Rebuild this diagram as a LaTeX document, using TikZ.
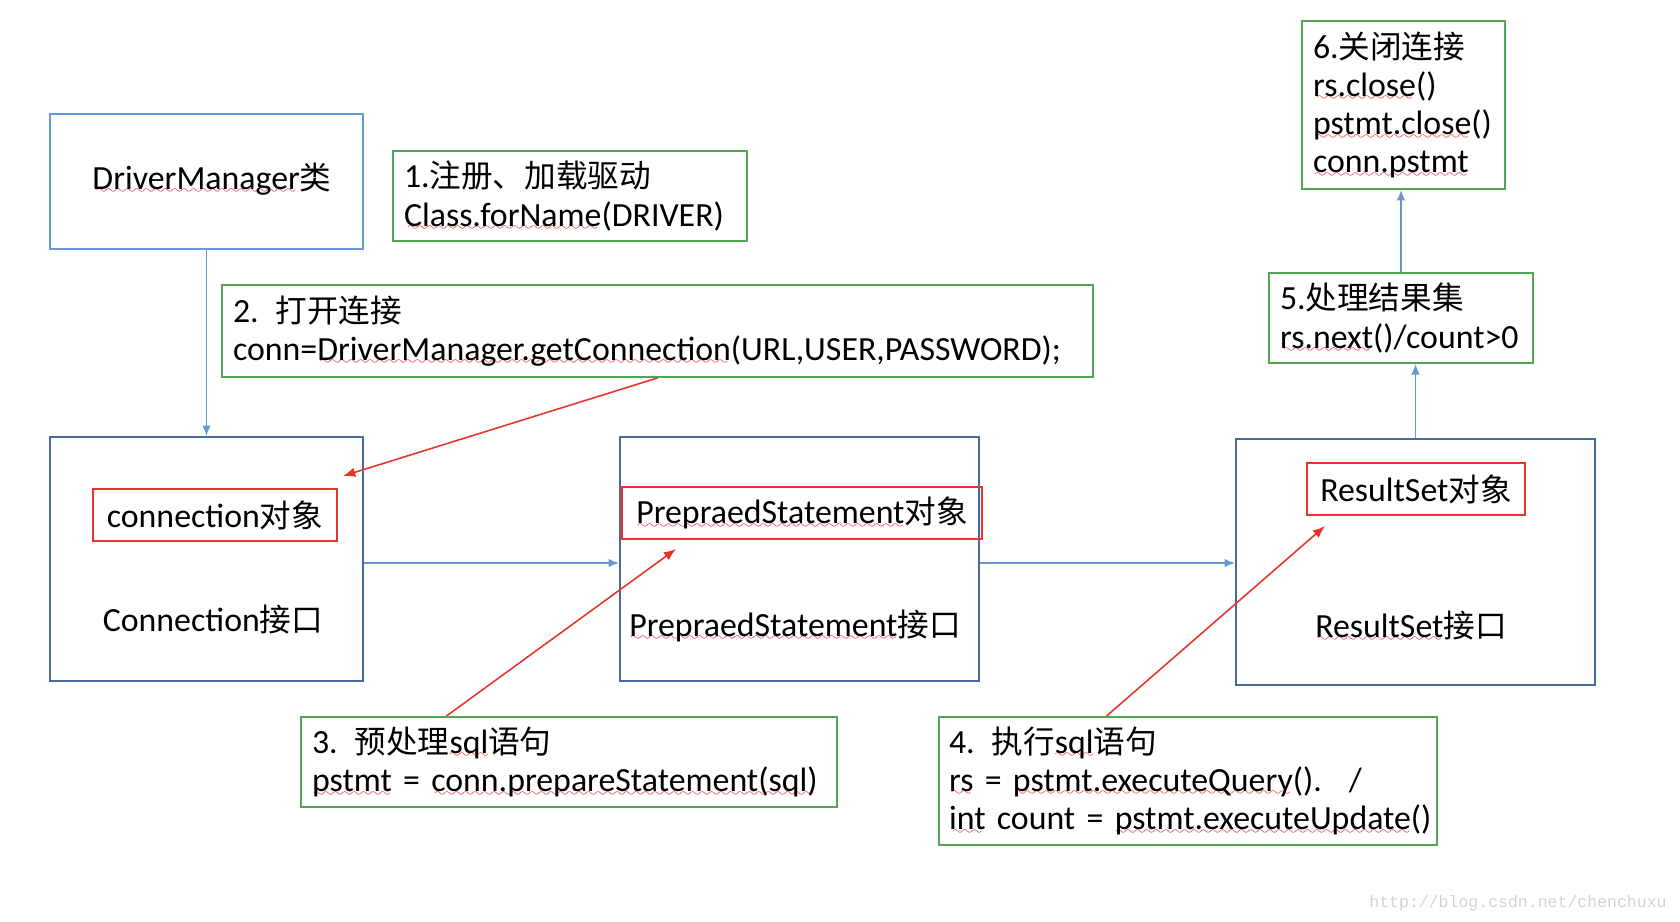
\documentclass[tikz,border=0pt]{standalone}
\usepackage{fontspec}
\usepackage{xcolor}
\setmainfont{Carlito}[Scale=1.07]
\newfontfamily\cjk{Noto Sans CJK SC}
\newfontfamily\wmfont{Liberation Mono}
\usetikzlibrary{arrows.meta,calc}

\definecolor{stepgreen}{RGB}{82,168,82}
\definecolor{ifblue}{RGB}{74,106,158}
\definecolor{dmblue}{RGB}{104,152,212}
\definecolor{arrblue}{RGB}{104,152,212}
\definecolor{objred}{RGB}{232,52,42}
\definecolor{sqred}{RGB}{236,40,40}

% red wavy underline, as drawn by the spell checker
\font\wavefont=lasy7
\newcommand\sq[1]{\leavevmode\setbox0\hbox{#1}%
  \rlap{\lower2.5pt\hbox to \wd0{\color{sqred}\cleaders\hbox{\wavefont\char58}\hfill}}\box0\relax}

\tikzset{
  txt/.style={font=\fontsize{18}{21.7}\selectfont, inner sep=0pt},
  ifbox/.style={draw=ifblue, line width=1.1pt, inner sep=0pt},
  dmbox/.style={draw=dmblue, line width=1.1pt, inner sep=0pt},
  objbox/.style={draw=objred, line width=1.1pt, txt},
  stepbox/.style={draw=stepgreen, line width=1.1pt, txt, align=left,
    inner xsep=0.22cm, inner ysep=0pt},
  bluearr/.style={draw=arrblue, line width=1pt, -{Latex[length=6pt,width=5pt]}},
  redarr/.style={draw=objred, line width=0.9pt, -{Latex[length=7pt,width=5.5pt]}}
}

\begin{document}
\begin{tikzpicture}[x=0.02cm, y=-0.02cm]
\useasboundingbox (0,0) rectangle (1680,922);

% classes and interfaces
\node [dmbox, minimum width=6.26cm, minimum height=2.70cm] (dm) at (206.5,181.5) {};
\node [txt] (dmlbl) at (212,179) {\sq{DriverManager}{\cjk 类}};

\node [ifbox, minimum width=6.26cm, minimum height=4.88cm] (conn) at (206.5,559) {};
\node [objbox, minimum width=4.88cm, minimum height=1.04cm] (connobj) at (215,515) {connection{\cjk 对象}};
\node [txt] (connlbl) at (213,620) {Connection{\cjk 接口}};

\node [ifbox, minimum width=7.18cm, minimum height=4.88cm] (ps) at (799.5,559) {};
\node [objbox, minimum width=7.20cm, minimum height=1.04cm] (psobj) at (802,513) {\sq{PrepraedStatement}{\cjk 对象}};
\node [txt] (pslbl) at (795,626) {\sq{PrepraedStatement}{\cjk 接口}};

\node [ifbox, minimum width=7.18cm, minimum height=4.92cm] (rs) at (1415.5,562) {};
\node [objbox, minimum width=4.36cm, minimum height=1.04cm] (rsobj) at (1416,489) {ResultSet{\cjk 对象}};
\node [txt] (rslbl) at (1411,626) {\sq{ResultSet}{\cjk 接口}};

% steps
\node [stepbox, text width=6.64cm, minimum height=1.80cm] (s1) at (570,196)
  {1.{\cjk 注册、加载驱动}\\\sq{Class.forName}(DRIVER)};
\node [stepbox, text width=16.98cm, minimum height=1.84cm] (s2) at (657.5,331)
  {2. {\cjk 打开连接}\\conn=\sq{DriverManager.getConnection}(URL,USER,PASSWORD);};
\node [stepbox, text width=10.28cm, minimum height=1.80cm] (s3) at (569,762)
  {3. {\cjk 预处理}\sq{sql}{\cjk 语句}\\\sq{pstmt} = \sq{conn.prepareStatement(sql)}};
\node [stepbox, inner xsep=0.2cm, text width=9.56cm, minimum height=2.56cm] (s4) at (1188,781)
  {4. {\cjk 执行}\sq{sql}{\cjk 语句}\\\mbox{\sq{rs} = \sq{pstmt.executeQuery}().\hspace{0.8em}/}\\\mbox{\sq{int} count = \sq{pstmt.executeUpdate}()}};
\node [stepbox, text width=4.84cm, minimum height=1.80cm] (s5) at (1401,318)
  {5.{\cjk 处理结果集}\\\sq{rs.next}()/count>0};
\node [stepbox, text width=3.62cm, minimum height=3.36cm] (s6) at (1403.5,105)
  {6.{\cjk 关闭连接}\\\sq{rs.close}()\\\sq{pstmt.close}()\\\sq{conn.pstmt}};

% where the red arrows point
\coordinate (connin) at (343,476);
\coordinate (psin) at (676,549);
\coordinate (rsin) at (1325,526);

% flow
\draw [bluearr] (dm.south) -- (conn.north);
\draw [bluearr] ([yshift=-0.08cm]conn.east) -- ([yshift=-0.08cm]conn.east -| ps.west);
\draw [bluearr] ([yshift=-0.08cm]ps.east) -- ([yshift=-0.08cm]ps.east -| rs.west);
\draw [bluearr] (rs.north) -- (rs.north |- s5.south);
\draw [bluearr] (s5.north) -- (s5.north |- s6.south);

\draw [redarr] (s2.south) -- (connin);
\draw [redarr] ($(s3.north west)!0.272!(s3.north east)$) -- (psin);
\draw [redarr] ($(s4.north west)!0.337!(s4.north east)$) -- (rsin);

\node [font=\wmfont\fontsize{9.4}{11}\selectfont, text=gray!35, inner sep=0pt] (wm) at (1518,903) {http://blog.csdn.net/chenchuxu};
\end{tikzpicture}
\end{document}
